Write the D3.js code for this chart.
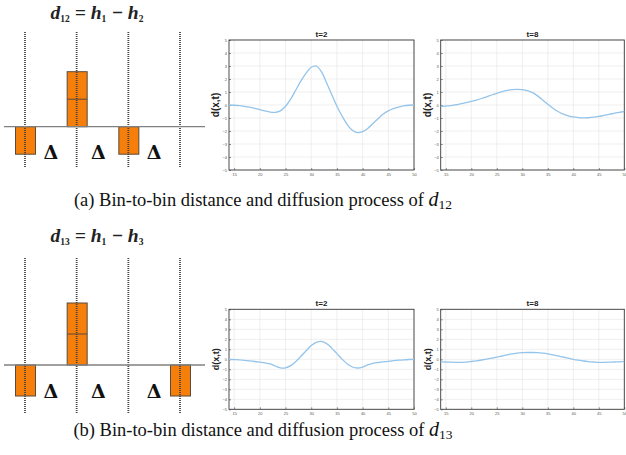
<!DOCTYPE html>
<html><head><meta charset="utf-8">
<script src="https://cdn.jsdelivr.net/npm/d3@7"></script>
<style>body{margin:0;background:#fff}svg{display:block}</style></head>
<body>
<svg id="c" width="626" height="455"></svg>
<script>
// ---- data ----
const bins = [1, 2, 3, 4];
const d12 = [-1, 2, -1, 0];
const d13 = [-1, 2, 0, -1];
const deltaAt = [1.5, 2.42, 3.5];
const xPos = [14,15,16,17,18,19,20,21,22,23,24,25,26,27,28,29,30,31,32,33,34,35,36,37,38,39,40,41,42,43,44,45,46,47,48,49,50];
const yTicks = [-5,-4,-3,-2,-1,0,1,2,3,4,5];
const xTicks = [15,20,25,30,35,40,45,50];
const d12t2 = [0,-0.02,-0.05,-0.1,-0.17,-0.26,-0.36,-0.46,-0.54,-0.56,-0.45,-0.1,0.45,1.15,1.85,2.45,2.9,3.0,2.55,1.7,0.8,-0.1,-0.85,-1.5,-1.95,-2.13,-2.05,-1.8,-1.42,-1.05,-0.7,-0.45,-0.28,-0.16,-0.07,-0.02,0];
const d12t8 = [-0.1,-0.08,-0.05,0.02,0.1,0.18,0.27,0.38,0.5,0.63,0.77,0.9,1.02,1.12,1.18,1.2,1.18,1.1,0.95,0.7,0.38,0.05,-0.25,-0.5,-0.7,-0.83,-0.92,-0.97,-0.99,-0.98,-0.94,-0.88,-0.8,-0.72,-0.64,-0.56,-0.5];
const d13t2 = [0,-0.03,-0.06,-0.11,-0.16,-0.22,-0.29,-0.36,-0.46,-0.67,-0.85,-0.85,-0.63,-0.22,0.3,0.85,1.37,1.7,1.79,1.57,1.12,0.57,0.02,-0.45,-0.77,-0.87,-0.78,-0.55,-0.4,-0.32,-0.26,-0.2,-0.14,-0.09,-0.05,-0.02,0];
const d13t8 = [-0.25,-0.27,-0.29,-0.3,-0.3,-0.28,-0.22,-0.15,-0.07,0.02,0.12,0.22,0.33,0.44,0.54,0.62,0.66,0.68,0.68,0.66,0.61,0.54,0.45,0.34,0.23,0.11,0.0,-0.09,-0.17,-0.23,-0.27,-0.3,-0.3,-0.29,-0.27,-0.25,-0.23];

const svg = d3.select("#c");

// ---- bin diagrams ----
function diagram(vals, cfg) {
  const g = svg.append("g");
  const x = d3.scaleLinear().domain([1, 4]).range([25, 180]);
  const y = d3.scaleLinear().domain([0, 1]).range([cfg.zero, cfg.zero - cfg.unit]);
  // title
  const t = g.append("text").attr("x", 97).attr("y", cfg.titleY).attr("text-anchor", "middle")
    .attr("font-family", "Liberation Serif").attr("font-weight", "bold").attr("font-style", "italic")
    .attr("font-size", 19.5).attr("fill", "#222");
  t.append("tspan").text("d");
  t.append("tspan").text(cfg.sub).attr("font-size", 9.5).attr("dy", 3).attr("font-style", "normal");
  t.append("tspan").text(" = h").attr("dy", -3);
  t.append("tspan").text("1").attr("font-size", 9.5).attr("dy", 3).attr("font-style", "normal");
  t.append("tspan").text(" \u2212 h").attr("dy", -3);
  t.append("tspan").text(cfg.sub2).attr("font-size", 9.5).attr("dy", 3).attr("font-style", "normal");
  // bars
  const bw = 20;
  vals.forEach((v, i) => {
    if (v === 0) return;
    const y0 = y(Math.max(0, v)), y1 = y(Math.min(0, v));
    g.append("rect").attr("x", x(bins[i]) - bw / 2 + 0.5).attr("y", y0).attr("width", bw).attr("height", y1 - y0)
      .attr("fill", "#f57f0a").attr("stroke", "#5a4a3a").attr("stroke-width", 1);
    for (let k = 1; k < Math.abs(v); k++) {
      const yy = y(Math.sign(v) * k);
      g.append("line").attr("x1", x(bins[i]) - bw / 2 + 0.5).attr("x2", x(bins[i]) + bw / 2 + 0.5)
        .attr("y1", yy).attr("y2", yy).attr("stroke", "#5a4a3a").attr("stroke-width", 1);
    }
  });
  // dotted lines
  bins.forEach(b => {
    g.append("line").attr("x1", x(b)).attr("x2", x(b)).attr("y1", cfg.dotTop).attr("y2", cfg.dotBot)
      .attr("stroke", "#444").attr("stroke-width", 1.8).attr("stroke-dasharray", "1,1");
  });
  // baseline
  g.append("line").attr("x1", 4).attr("x2", 205).attr("y1", cfg.zero).attr("y2", cfg.zero)
    .attr("stroke", "#808080").attr("stroke-width", 1.3);
  // deltas
  deltaAt.forEach(d => {
    g.append("text").attr("x", x(d)).attr("y", cfg.deltaY).attr("text-anchor", "middle")
      .attr("font-family", "DejaVu Serif").attr("font-weight", "bold").attr("font-size", 19)
      .attr("fill", "#111").text("\u0394");
  });
}
diagram(d12, {zero: 126.7, unit: 27.5, titleY: 18.5, sub: "12", sub2: "2", dotTop: 32, dotBot: 168, deltaY: 159});
diagram(d13, {zero: 365, unit: 31, titleY: 241.5, sub: "13", sub2: "3", dotTop: 258, dotBot: 413, deltaY: 398});

// ---- diffusion panels ----
function panel(vals, box, title, labelSize) {
  const g = svg.append("g");
  const x = d3.scaleLinear().domain([14, 50]).range([box.l, box.r]);
  const y = d3.scaleLinear().domain([-5, 5]).range([box.b, box.t]);
  // grid
  g.selectAll(".gx").data(xTicks).enter().append("line")
    .attr("x1", d => x(d)).attr("x2", d => x(d)).attr("y1", box.t).attr("y2", box.b)
    .attr("stroke", "#e4e4e4").attr("stroke-width", 0.6);
  g.selectAll(".gy").data(yTicks).enter().append("line")
    .attr("x1", box.l).attr("x2", box.r).attr("y1", d => y(d)).attr("y2", d => y(d))
    .attr("stroke", "#e4e4e4").attr("stroke-width", 0.6);
  // axes (ticks inward)
  const ax = d3.axisBottom(x).tickValues(xTicks).tickSize(-2).tickPadding(3);
  const ay = d3.axisLeft(y).tickValues(yTicks).tickSize(-2).tickPadding(2);
  const gx = g.append("g").attr("transform", `translate(0,${box.b})`).call(ax);
  const gy = g.append("g").attr("transform", `translate(${box.l},0)`).call(ay);
  [gx, gy].forEach(a => {
    a.select(".domain").remove();
    a.selectAll("line").attr("stroke", "#444").attr("stroke-width", 0.6);
    a.selectAll("text").attr("font-size", 4).attr("font-family", "Liberation Sans").attr("fill", "#555");
  });
  // box
  g.append("rect").attr("x", box.l).attr("y", box.t).attr("width", box.r - box.l).attr("height", box.b - box.t)
    .attr("fill", "none").attr("stroke", "#3a3a3a").attr("stroke-width", 0.9);
  // curve
  const line = d3.line().x((d, i) => x(xPos[i])).y(d => y(d)).curve(d3.curveCatmullRom);
  g.append("path").datum(vals).attr("d", line).attr("fill", "none")
    .attr("stroke", "#94c4ea").attr("stroke-width", 1.3);
  // title
  g.append("text").attr("x", (box.l + box.r) / 2).attr("y", box.t - 3.5).attr("text-anchor", "middle")
    .attr("font-family", "Liberation Sans").attr("font-weight", "bold").attr("font-size", 8)
    .attr("fill", "#222").text(title);
  // y label
  g.append("text").attr("transform", `translate(${box.l - 10},${(box.t + box.b) / 2}) rotate(-90)`)
    .attr("text-anchor", "middle").attr("font-family", "Liberation Sans").attr("font-weight", "bold")
    .attr("font-size", labelSize).attr("fill", "#222").text("d(x,t)");
}
panel(d12t2, {l: 229, r: 414, t: 40, b: 170}, "t=2", 10);
panel(d12t8, {l: 440.7, r: 624.3, t: 40, b: 170}, "t=8", 10);
panel(d13t2, {l: 229, r: 414, t: 309.3, b: 409.3}, "t=2", 9);
panel(d13t8, {l: 440.7, r: 624.3, t: 309.3, b: 409.3}, "t=8", 9);

// ---- captions ----
function caption(label, sub, yb) {
  const t = svg.append("text").attr("x", 263).attr("y", yb).attr("text-anchor", "middle")
    .attr("font-family", "Liberation Serif").attr("font-size", 18.5).attr("fill", "#111");
  t.append("tspan").text(label + " Bin-to-bin distance and diffusion process of ");
  t.append("tspan").text("d").attr("font-style", "italic").attr("font-size", 20);
  t.append("tspan").text(sub).attr("font-size", 13.5).attr("dy", 3);
}
caption("(a)", "12", 206);
caption("(b)", "13", 436);
</script>
</body></html>
